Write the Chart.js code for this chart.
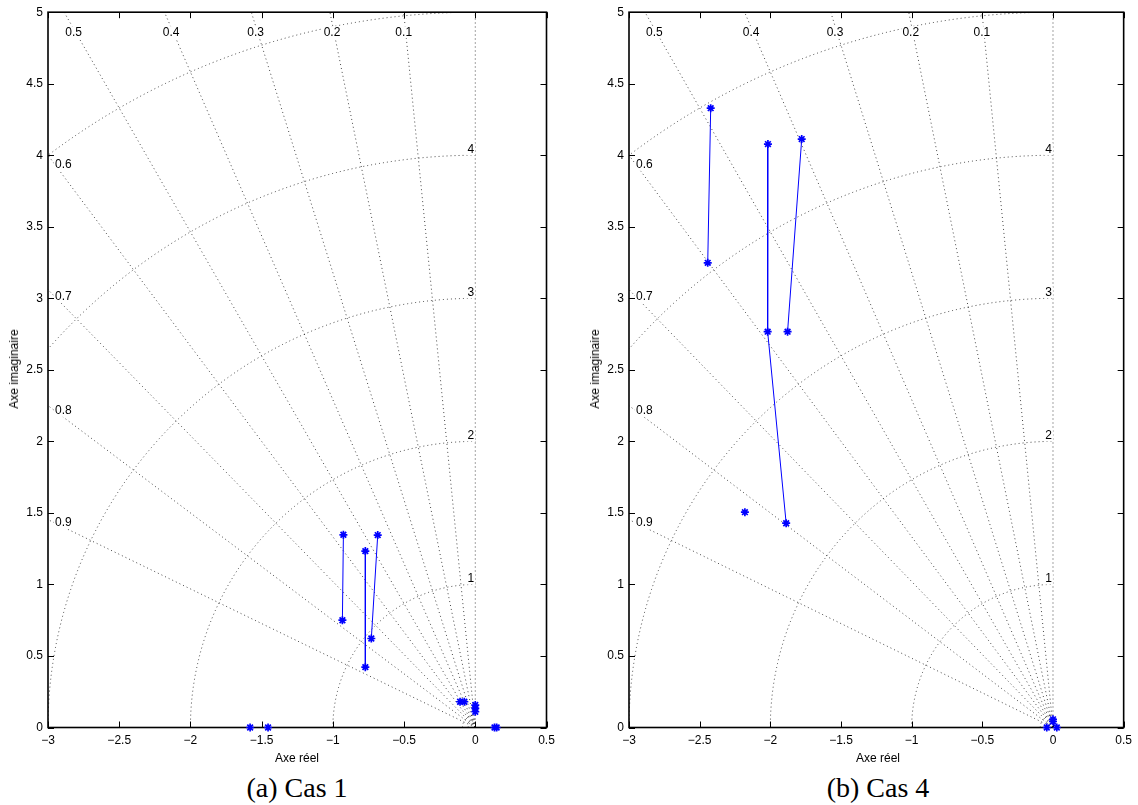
<!DOCTYPE html>
<html><head><meta charset="utf-8">
<script src="https://cdn.jsdelivr.net/npm/chart.js@4.4.1/dist/chart.umd.min.js"></script>
<style>
html,body{margin:0;padding:0;background:#fff;width:1138px;height:805px;overflow:hidden;position:relative;font-family:"Liberation Sans",Arial,sans-serif;}
.pane{position:absolute;top:0;width:569px;height:770px;}
.xt{position:absolute;font-size:12px;transform:translate(-50%,-50%);white-space:nowrap;color:#000;}
.yt{position:absolute;font-size:12px;transform:translate(-50%,-50%) rotate(-90deg);white-space:nowrap;color:#000;}
.cap{position:absolute;font-family:"Liberation Serif","Times New Roman",serif;font-size:28px;transform:translate(-50%,-50%);white-space:nowrap;color:#000;}
</style></head><body>
<div class="pane" style="left:0px"><canvas id="c1" width="569" height="770"></canvas></div>
<div class="pane" style="left:569px"><canvas id="c2" width="569" height="770"></canvas></div>
<div class="yt" style="left:14px;top:369px">Axe imaginaire</div>
<div class="yt" style="left:595px;top:369px">Axe imaginaire</div>
<div class="xt" style="left:297px;top:758px">Axe réel</div>
<div class="xt" style="left:878px;top:758px">Axe réel</div>
<div class="cap" style="left:297px;top:788px">(a) Cas 1</div>
<div class="cap" style="left:878px;top:788px">(b) Cas 4</div>
<script>
// ---- axes / grid values ----
const xTicks = [-3, -2.5, -2, -1.5, -1, -0.5, 0, 0.5];
const yTicks = [0, 0.5, 1, 1.5, 2, 2.5, 3, 3.5, 4, 4.5, 5];
const dampingValues = [0.1, 0.2, 0.3, 0.4, 0.5, 0.6, 0.7, 0.8, 0.9];
const freqValues = [0.05, 0.09, 1, 2, 3, 4, 5];
const freqLabels = [1, 2, 3, 4];

// ---- Cas 1 ----
const cas1_trajA_x = [-0.926, -0.933];
const cas1_trajA_y = [1.347, 0.750];
const cas1_trajB_x = [-0.772, -0.772];
const cas1_trajB_y = [1.233, 0.422];
const cas1_trajC_x = [-0.685, -0.730];
const cas1_trajC_y = [1.345, 0.622];
const cas1_poles_x = [-1.581, -1.455, -0.107, -0.077, 0, 0, 0, 0.135, 0.150];
const cas1_poles_y = [0, 0, 0.18, 0.18, 0.157, 0.133, 0.11, 0, 0];

// ---- Cas 4 ----
const cas4_trajA_x = [-2.422, -2.443];
const cas4_trajA_y = [4.329, 3.248];
const cas4_trajB_x = [-2.017, -2.019, -1.888];
const cas4_trajB_y = [4.078, 2.767, 1.428];
const cas4_trajC_x = [-1.778, -1.878];
const cas4_trajC_y = [4.113, 2.767];
const cas4_poles_x = [-2.180, 0, 0, -0.044, 0.027];
const cas4_poles_y = [1.505, 0.057, 0.042, 0, 0];

const BLUE = '#0000ff';
const FONT = '"Liberation Sans", Arial, sans-serif';

function pts(xs, ys) { return xs.map((v, i) => ({x: v, y: ys[i]})); }
function fmt(v) { return (v < 0 ? '\u2212' : '') + Math.abs(v); }

function traj(xs, ys) {
  return {data: pts(xs, ys), showLine: true, borderColor: BLUE, borderWidth: 1,
    pointStyle: 'star', pointRadius: 4, pointBorderWidth: 1.7, pointBorderColor: BLUE,
    pointBackgroundColor: BLUE, clip: false};
}
function poles(xs, ys) {
  return {data: pts(xs, ys), showLine: false, borderColor: BLUE,
    pointStyle: 'star', pointRadius: 4, pointBorderWidth: 1.7, pointBorderColor: BLUE,
    pointBackgroundColor: BLUE, clip: false};
}

const sgridPlugin = {
  id: 'sgrid',
  beforeDatasetsDraw(chart) {
    const ctx = chart.ctx, a = chart.chartArea, x = chart.scales.x, y = chart.scales.y;
    const x0 = x.getPixelForValue(0), y0 = y.getPixelForValue(0);
    const kx = x.getPixelForValue(1) - x0, ky = y0 - y.getPixelForValue(1);
    ctx.save();
    ctx.beginPath();
    ctx.rect(a.left, a.top, a.right - a.left, a.bottom - a.top);
    ctx.clip();
    ctx.strokeStyle = 'rgba(0,0,0,0.72)';
    ctx.lineWidth = 1;
    ctx.setLineDash([1, 3]);
    [0].concat(dampingValues).forEach(z => {
      const s = Math.sqrt(1 - z * z), R = 20;
      ctx.beginPath();
      ctx.moveTo(x0, y0);
      ctx.lineTo(x.getPixelForValue(-R * z), y.getPixelForValue(R * s));
      ctx.stroke();
    });
    freqValues.forEach(w => {
      ctx.beginPath();
      ctx.ellipse(x0, y0, w * kx, w * ky, 0, Math.PI, 1.5 * Math.PI);
      ctx.stroke();
    });
    ctx.setLineDash([]);
    ctx.font = '12px ' + FONT;
    ctx.textBaseline = 'middle';
    const label = (txt, cx, cy, align) => {
      const w = ctx.measureText(txt).width;
      const lx = align === 'left' ? cx : cx - w / 2;
      ctx.fillStyle = '#fff';
      ctx.fillRect(lx - 1, cy - 6, w + 2, 12);
      ctx.fillStyle = '#000';
      ctx.textAlign = 'left';
      ctx.fillText(txt, lx, cy);
    };
    dampingValues.forEach(z => {
      const s = Math.sqrt(1 - z * z);
      const xTop = -y.max * z / s;
      if (xTop >= x.min) {
        const py = a.top + 20;
        const yd = y.getValueForPixel(py);
        label(String(z), x.getPixelForValue(-yd * z / s) - 2, py, 'center');
      } else {
        const px = a.left + 7;
        const xd = x.getValueForPixel(px);
        label(String(z), px, y.getPixelForValue(-xd * s / z), 'left');
      }
    });
    freqLabels.forEach(w => {
      label(String(w), x0 - 4.5, y.getPixelForValue(w) - 6, 'center');
    });
    ctx.restore();
    // box and inward ticks
    ctx.save();
    ctx.strokeStyle = '#000';
    ctx.lineWidth = 1;
    xTicks.forEach(v => {
      const px = Math.round(x.getPixelForValue(v)) + 0.5;
      ctx.beginPath();
      ctx.moveTo(px, a.bottom); ctx.lineTo(px, a.bottom - 6);
      ctx.moveTo(px, a.top); ctx.lineTo(px, a.top + 6);
      ctx.stroke();
    });
    yTicks.forEach(v => {
      const py = Math.round(y.getPixelForValue(v)) + 0.5;
      ctx.beginPath();
      ctx.moveTo(a.left, py); ctx.lineTo(a.left + 6, py);
      ctx.moveTo(a.right, py); ctx.lineTo(a.right - 6, py);
      ctx.stroke();
    });
    ctx.lineWidth = 1.6;
    ctx.strokeRect(a.left, a.top, a.right - a.left, a.bottom - a.top);
    ctx.restore();
  }
};

function makeChart(id, datasets, yWidth, padRight) {
  return new Chart(document.getElementById(id), {
    type: 'scatter',
    data: {datasets: datasets},
    options: {
      responsive: false, animation: false, devicePixelRatio: 1,
      layout: {padding: {top: 10.5, right: padRight, left: 0, bottom: 0}},
      plugins: {legend: {display: false}, tooltip: {enabled: false}},
      scales: {
        x: {
          type: 'linear', min: -3, max: 0.5,
          grid: {display: false, drawTicks: false}, border: {display: false},
          afterBuildTicks: s => { s.ticks = xTicks.map(v => ({value: v})); },
          afterFit: s => { s.height = 42.5; },
          ticks: {padding: 6, color: '#000', font: {family: FONT, size: 12},
            maxRotation: 0, autoSkip: false, callback: v => fmt(v)}
        },
        y: {
          type: 'linear', min: 0, max: 5,
          grid: {display: false, drawTicks: false}, border: {display: false},
          afterBuildTicks: s => { s.ticks = yTicks.map(v => ({value: v})); },
          afterFit: s => { s.width = yWidth; },
          ticks: {padding: 5, color: '#000', font: {family: FONT, size: 12},
            autoSkip: false, callback: v => fmt(v)}
        }
      }
    },
    plugins: [sgridPlugin]
  });
}

makeChart('c1', [
  traj(cas1_trajA_x, cas1_trajA_y),
  traj(cas1_trajB_x, cas1_trajB_y),
  traj(cas1_trajC_x, cas1_trajC_y),
  poles(cas1_poles_x, cas1_poles_y)
], 48, 22.5);

makeChart('c2', [
  traj(cas4_trajA_x, cas4_trajA_y),
  traj(cas4_trajB_x, cas4_trajB_y),
  traj(cas4_trajC_x, cas4_trajC_y),
  poles(cas4_poles_x, cas4_poles_y)
], 60, 10.5);
</script>
</body></html>
